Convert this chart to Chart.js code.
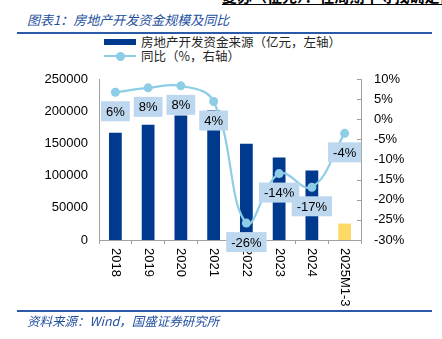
<!DOCTYPE html>
<html lang="zh">
<head>
<meta charset="UTF-8">
<title>房地产开发资金规模及同比</title>
<script src="https://cdn.jsdelivr.net/npm/chart.js"></script>
<style>
    body {
        margin: 0;
        background: #fff;
    }
    #wrap {
        position: relative;
        width: 442px;
        height: 339px;
        overflow: hidden;
        font-family: "Noto Sans CJK SC", sans-serif;
    }
    #chart {
        position: absolute;
        left: 0;
        top: 0;
    }
    .head {
        position: absolute;
        left: 222px;
        top: -12px;
        width: 220px;
        height: 16px;
        line-height: 16px;
        font-size: 15px;
        font-weight: bold;
        color: #000;
        white-space: nowrap;
        overflow: hidden;
        border-bottom: 1.5px solid #000;
    }
    .rule {
        position: absolute;
        left: 17px;
        width: 415px;
        height: 2px;
        background: #2B5BA8;
    }
    .note {
        position: absolute;
        left: 27px;
        font-style: italic;
        color: #2450A0;
        white-space: nowrap;
    }
    .leg-text {
        position: absolute;
        left: 141px;
        font-size: 12.5px;
        line-height: 16px;
        color: #262626;
        white-space: nowrap;
    }
</style>
</head>
<body>
<div id="wrap">
    <div class="head">复苏（征兆）：在周期中寻找确定性</div>
    <div class="note" style="top:12px; font-size:13px; line-height:16px;">图表1：房地产开发资金规模及同比</div>
    <div class="rule" style="top:32px;"></div>

    <div style="position:absolute; left:104px; top:39px; width:32px; height:6px; background:#003A8F;"></div>
    <div class="leg-text" style="top:34px;">房地产开发资金来源（亿元，左轴）</div>
    <div style="position:absolute; left:104px; top:55px; width:32px; height:2px; background:#8DCDE6;"></div>
    <div style="position:absolute; left:116px; top:52px; width:9px; height:9px; border-radius:50%; background:#8DCDE6;"></div>
    <div class="leg-text" style="top:48px;">同比（%，右轴）</div>

    <canvas id="chart" width="442" height="339"></canvas>

    <div class="rule" style="top:310px;"></div>
    <div class="note" style="top:313px; font-size:12.5px; line-height:16px;">资料来源：Wind，国盛证券研究所</div>
</div>

<script type="text/javascript">
    const categories = ["2018", "2019", "2020", "2021", "2022", "2023", "2024", "2025M1-3"];
    // 房地产开发资金来源，亿元
    const fundSource = [166500, 179000, 193500, 201500, 149500, 128000, 108000, 25500];
    // 同比，%
    const yoyGrowth = [6.7, 7.8, 8.3, 4.4, -25.8, -13.5, -16.9, -3.5];
    const yoyLabels = ["6%", "8%", "8%", "4%", "-26%", "-14%", "-17%", "-4%"];

    const NAVY = "#003A8F";
    const YELLOW = "#FFD966";
    const SKY = "#8DCDE6";
    const BOX = "#BDD7EE";
    const AXIS = "#A0A0A0";
    const TICK_FONT = { family: '"Liberation Sans", Arial, sans-serif', size: 13 };

    const overlay = {
        id: "overlay",
        afterDatasetsDraw(chart) {
            const ctx = chart.ctx;
            const area = chart.chartArea;
            const xs = chart.scales.x;
            const y1 = chart.scales.y1;
            ctx.save();

            // inward tick marks on the right axis
            ctx.strokeStyle = AXIS;
            ctx.lineWidth = 1;
            y1.ticks.forEach(t => {
                const y = Math.round(y1.getPixelForValue(t.value)) + 0.5;
                ctx.beginPath();
                ctx.moveTo(area.right - 4, y);
                ctx.lineTo(area.right, y);
                ctx.stroke();
            });

            // vertical category labels, reading top to bottom
            ctx.font = '13px "Liberation Sans", Arial, sans-serif';
            ctx.fillStyle = "#000";
            ctx.textAlign = "left";
            ctx.textBaseline = "middle";
            categories.forEach((c, i) => {
                ctx.save();
                ctx.translate(xs.getPixelForValue(i), area.bottom + 8);
                ctx.rotate(Math.PI / 2);
                ctx.fillText(c, 0, 0);
                ctx.restore();
            });

            // boxed data labels under the line points
            ctx.textAlign = "center";
            const meta = chart.getDatasetMeta(1);
            meta.data.forEach((pt, i) => {
                const txt = yoyLabels[i];
                const w = ctx.measureText(txt).width + 10;
                const h = 20;
                const cy = pt.y + 19;
                ctx.fillStyle = BOX;
                ctx.fillRect(pt.x - w / 2, cy - h / 2, w, h);
                ctx.fillStyle = "#000";
                ctx.fillText(txt, pt.x, cy + 1);
            });
            ctx.restore();
        }
    };

    new Chart(document.getElementById("chart"), {
        data: {
            labels: categories,
            datasets: [{
                type: "bar",
                data: fundSource,
                backgroundColor: categories.map((c, i) => i === categories.length - 1 ? YELLOW : NAVY),
                barPercentage: 0.39,
                categoryPercentage: 1,
                yAxisID: "y",
                order: 2
            }, {
                type: "line",
                data: yoyGrowth,
                borderColor: SKY,
                backgroundColor: SKY,
                borderWidth: 2.2,
                tension: 0.4,
                pointRadius: 4.5,
                pointBorderWidth: 0,
                yAxisID: "y1",
                clip: false,
                order: 1
            }]
        },
        options: {
            responsive: false,
            animation: false,
            events: [],
            layout: { padding: { top: 79, bottom: 99, left: 0, right: 0 } },
            plugins: {
                legend: { display: false },
                tooltip: { enabled: false }
            },
            scales: {
                x: {
                    offset: true,
                    ticks: { display: false },
                    grid: {
                        offset: true,
                        drawOnChartArea: false,
                        drawTicks: true,
                        tickLength: 4,
                        color: AXIS
                    },
                    border: { color: AXIS },
                    afterFit: s => { s.height = 0; }
                },
                y: {
                    position: "left",
                    min: 0,
                    max: 250000,
                    ticks: {
                        stepSize: 50000,
                        font: TICK_FONT,
                        color: "#000",
                        padding: 11,
                        callback: v => String(v)
                    },
                    grid: { display: false, drawTicks: false },
                    border: { color: AXIS },
                    afterFit: s => { s.width = 99; }
                },
                y1: {
                    position: "right",
                    min: -30,
                    max: 10,
                    ticks: {
                        stepSize: 5,
                        font: TICK_FONT,
                        color: "#000",
                        padding: 13,
                        callback: v => v + "%"
                    },
                    grid: { display: false, drawTicks: false },
                    border: { color: AXIS },
                    afterFit: s => { s.width = 81; }
                }
            }
        },
        plugins: [overlay]
    });
</script>
</body>
</html>
